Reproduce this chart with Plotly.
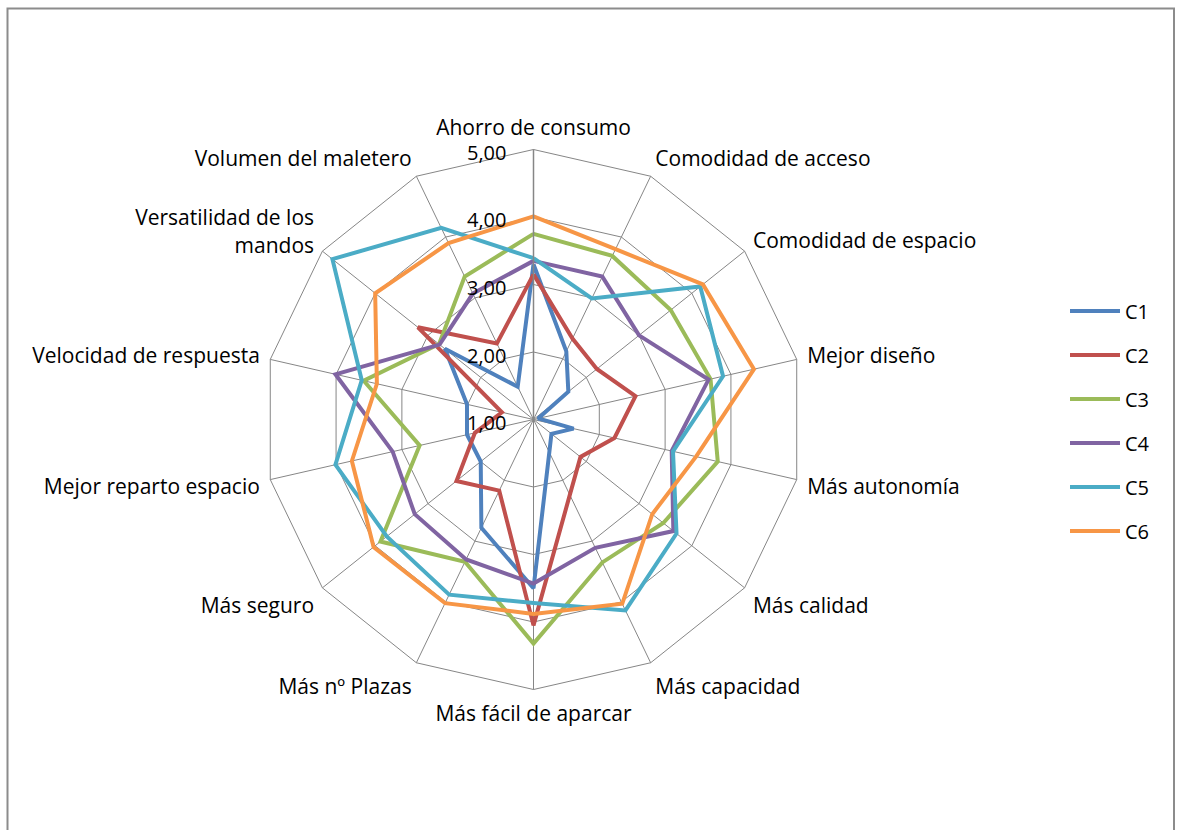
import plotly.graph_objects as go

categories = ["Ahorro de consumo", "Comodidad de acceso", "Comodidad de espacio",
              "Mejor diseño", "Más autonomía", "Más calidad", "Más capacidad",
              "Más fácil de aparcar", "Más nº Plazas", "Más seguro",
              "Mejor reparto espacio", "Velocidad de respuesta",
              "Versatilidad de los<br>mandos", "Volumen del maletero"]

series_names = ["C1", "C2", "C3", "C4", "C5", "C6"]
c1 = [3.30, 2.12, 1.66, 1.07, 1.61, 1.34, 1.54, 3.50, 2.78, 2.00, 2.01, 2.01, 2.68, 1.54]
c2 = [3.15, 2.33, 2.20, 2.55, 2.23, 1.89, 2.24, 4.05, 2.17, 2.46, 1.89, 1.48, 3.19, 2.25]
c3 = [3.75, 3.69, 3.60, 3.69, 3.80, 3.46, 3.35, 4.32, 3.34, 3.90, 2.73, 3.58, 2.79, 3.35]
c4 = [3.35, 3.35, 3.00, 3.66, 3.10, 3.65, 3.11, 3.43, 3.30, 3.25, 3.14, 4.01, 2.78, 3.07]
c5 = [3.39, 2.99, 4.16, 3.88, 3.12, 3.71, 4.14, 3.72, 3.88, 3.78, 4.01, 3.61, 4.81, 4.15]
c6 = [4.01, 3.80, 4.21, 4.35, 3.47, 3.25, 4.03, 3.88, 4.02, 4.03, 3.76, 3.38, 4.00, 3.90]
series_values = [c1, c2, c3, c4, c5, c6]
colors = ["#4F81BD", "#C0504D", "#9BBB59", "#8064A2", "#4BACC6", "#F79646"]

radial_ticks = [1, 2, 3, 4, 5]
radial_ticktext = ["1,00", "2,00", "3,00", "4,00", "5,00"]
r_min, r_max = 1, 5

W, H = 1179, 830
cx, cy, R = 533.5, 419.5, 270
FONT = "Open Sans, Noto Sans, sans-serif"

fig = go.Figure()
for name, vals, col in zip(series_names, series_values, colors):
    fig.add_trace(go.Scatterpolar(
        r=vals + [vals[0]],
        theta=categories + [categories[0]],
        mode="lines",
        name=name,
        legendgroup=name,
        line=dict(color=col, width=4),
    ))

# radial tick labels, horizontal, left of the vertical axis (positions from the radial scale)
annotations = []
for v, t in zip(radial_ticks, radial_ticktext):
    ypix = cy - (v - r_min) / (r_max - r_min) * R + 3
    annotations.append(dict(
        x=(cx - 26) / W, y=(H - ypix) / H, xref="paper", yref="paper",
        text=t, showarrow=False, xanchor="right", yanchor="middle",
        font=dict(size=20, family=FONT, color="black"),
    ))

grid = "#868686"
fig.update_layout(
    width=W, height=H,
    margin=dict(l=0, r=0, t=0, b=0),
    paper_bgcolor="white",
    plot_bgcolor="white",
    font=dict(family=FONT, color="black", size=20),
    polar=dict(
        domain=dict(x=[(cx - R) / W, (cx + R) / W],
                    y=[(H - cy - R) / H, (H - cy + R) / H]),
        bgcolor="white",
        gridshape="linear",
        radialaxis=dict(
            range=[r_min, r_max],
            tickvals=radial_ticks,
            showticklabels=False,
            angle=90,
            showline=True,
            linecolor=grid,
            linewidth=1.5,
            gridcolor=grid,
            gridwidth=1,
            ticks="",
        ),
        angularaxis=dict(
            rotation=90,
            direction="clockwise",
            showline=True,
            linecolor=grid,
            linewidth=1,
            gridcolor=grid,
            gridwidth=1,
            ticks="outside",
            ticklen=6,
            tickcolor="rgba(0,0,0,0)",
            tickfont=dict(size=21, family=FONT),
        ),
    ),
    legend=dict(
        x=1065 / W, y=(H - 291.5) / H, xanchor="left", yanchor="top",
        font=dict(size=20, family=FONT),
        tracegroupgap=15,
        itemwidth=50,
        bgcolor="rgba(0,0,0,0)",
    ),
    annotations=annotations,
    shapes=[dict(type="rect", xref="paper", yref="paper",
                 x0=7.5 / W, x1=1174 / W, y0=-0.01, y1=(H - 8.5) / H,
                 line=dict(color="#8C8C8C", width=2))],
)

fig.write_html("out.html")
